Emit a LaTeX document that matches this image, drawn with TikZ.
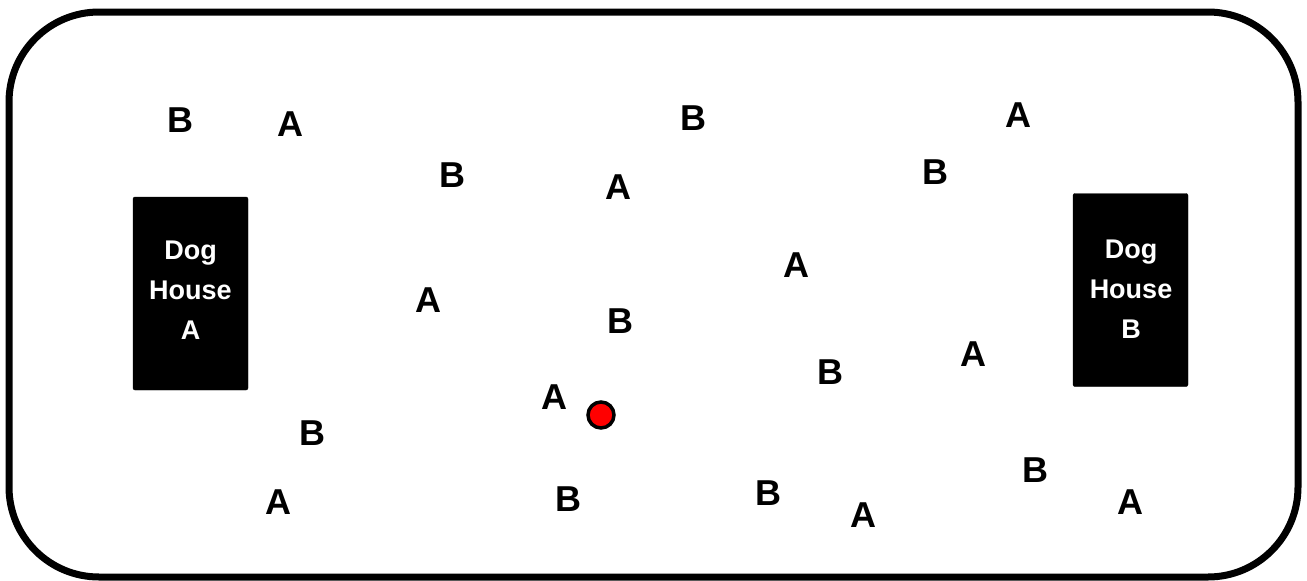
\documentclass[tikz,border=0pt]{standalone}
\usepackage{fontspec}
\setmainfont{Liberation Sans}
\begin{document}
\begin{tikzpicture}[x=1pt,y=-1pt,
  lbl/.style={font=\fontsize{36}{40}\selectfont\bfseries, inner sep=0pt, anchor=center},
  house/.style={fill=black, draw=black, rounded corners=2pt, minimum width=115pt, minimum height=193pt, inner sep=0pt},
  htext/.style={text=white, align=center, font=\fontsize{27}{40}\selectfont\bfseries, inner sep=0pt},
  yard/.style={draw=black, line width=7pt, rounded corners=90pt},
  ball/.style={circle, fill=red, draw=black, line width=3.5pt, minimum size=26pt, inner sep=0pt}]
\useasboundingbox (0,0) rectangle (1307,581);
\draw[yard] (9,12) rectangle (1298,577);
\node[house] (ha) at (190.5,293.5) {};
\node[htext] (ta) at (190.5,290) {Dog\\House\\A};
\node[house] (hb) at (1130.5,290) {};
\node[htext] (tb) at (1131,289) {Dog\\House\\B};
\node[ball] (dot) at (601,415) {};
\node[lbl] (b1) at (180,120) {B};
\node[lbl] (a1) at (290,124) {A};
\node[lbl] (b2) at (452,175) {B};
\node[lbl] (a2) at (618,187) {A};
\node[lbl] (b3) at (693,118) {B};
\node[lbl] (a3) at (1018,115) {A};
\node[lbl] (b4) at (935,172) {B};
\node[lbl] (a4) at (796,265) {A};
\node[lbl] (a5) at (428,300) {A};
\node[lbl] (b5) at (620,321) {B};
\node[lbl] (b6) at (830,372) {B};
\node[lbl] (a6) at (973,354) {A};
\node[lbl] (a7) at (554,397) {A};
\node[lbl] (b7) at (312,433) {B};
\node[lbl] (a8) at (278,502) {A};
\node[lbl] (b8) at (568,499) {B};
\node[lbl] (b9) at (768,493) {B};
\node[lbl] (a9) at (863,515) {A};
\node[lbl] (b10) at (1035,470) {B};
\node[lbl] (a10) at (1130,502) {A};
\end{tikzpicture}
\end{document}
